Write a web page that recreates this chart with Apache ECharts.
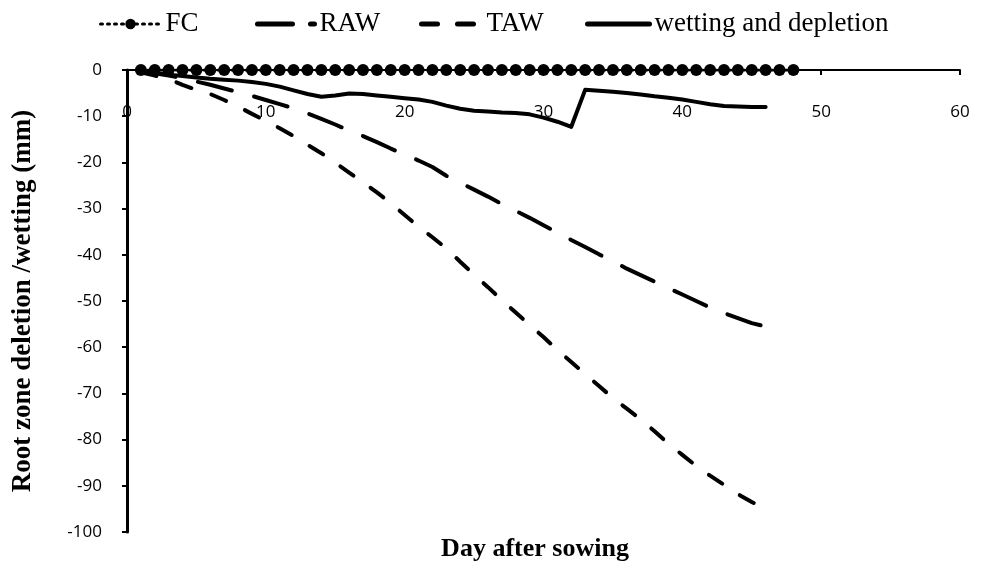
<!DOCTYPE html>
<html>
<head>
<meta charset="utf-8">
<script src="https://cdn.jsdelivr.net/npm/echarts@6/dist/echarts.min.js"></script>
<style>
  html, body { margin: 0; padding: 0; background: #fff; }
  #chart { width: 984px; height: 569px; }
</style>
</head>
<body>
<div id="chart"></div>
<script>
// Day after sowing for the soil water balance series
const days = [1, 2, 3, 4, 5, 6, 7, 8, 9, 10, 11, 12, 13, 14, 15, 16, 17, 18, 19, 20,
  21, 22, 23, 24, 25, 26, 27, 28, 29, 30, 31, 32, 33, 34, 35, 36, 37, 38, 39, 40,
  41, 42, 43, 44, 45, 46];
// Field capacity reference line (days and depletion, mm)
const fcDays = [1, 2, 3, 4, 5, 6, 7, 8, 9, 10, 11, 12, 13, 14, 15, 16, 17, 18, 19, 20,
  21, 22, 23, 24, 25, 26, 27, 28, 29, 30, 31, 32, 33, 34, 35, 36, 37, 38, 39, 40,
  41, 42, 43, 44, 45, 46, 47, 48];
const fcValues = [0, 0, 0, 0, 0, 0, 0, 0, 0, 0, 0, 0, 0, 0, 0, 0, 0, 0, 0, 0,
  0, 0, 0, 0, 0, 0, 0, 0, 0, 0, 0, 0, 0, 0, 0, 0, 0, 0, 0, 0,
  0, 0, 0, 0, 0, 0, 0, 0];
// Readily available water (mm)
const rawValues = [-0.3, -0.7, -1.2, -1.8, -2.5, -3.2, -4.0, -4.8, -5.6, -6.5,
  -7.4, -8.3, -9.4, -10.6, -11.8, -13.1, -14.3, -15.6, -17.0, -18.3,
  -19.6, -21.0, -22.9, -24.4, -25.9, -27.4, -29.0, -30.5, -32.0, -33.6,
  -35.2, -36.8, -38.3, -39.9, -41.4, -43.0, -44.4, -45.8, -47.2, -48.6,
  -50.0, -51.4, -52.6, -53.7, -54.8, -55.5];
// Total available water (mm)
const tawValues = [-0.5, -1.2, -2.0, -3.2, -4.3, -5.2, -6.5, -7.9, -9.5, -11.0,
  -12.6, -14.3, -16.2, -18.0, -20.1, -22.2, -24.3, -26.5, -28.8, -31.4,
  -33.9, -36.2, -38.6, -41.5, -44.3, -47.0, -49.8, -52.5, -55.2, -57.8,
  -60.6, -63.2, -65.8, -68.4, -71.0, -73.3, -75.6, -78.2, -80.9, -83.3,
  -85.7, -87.8, -89.8, -91.8, -93.5, -95.0];
// Root zone depletion after wetting events (mm)
const wettingValues = [-0.3, -0.6, -1.0, -1.3, -1.6, -1.9, -2.1, -2.3, -2.6, -3.0,
  -3.6, -4.4, -5.2, -5.8, -5.5, -5.1, -5.2, -5.5, -5.8, -6.1,
  -6.4, -6.9, -7.7, -8.4, -8.8, -9.0, -9.2, -9.3, -9.6, -10.3,
  -11.2, -12.3, -4.3, -4.5, -4.7, -5.0, -5.3, -5.7, -6.0, -6.4,
  -6.9, -7.4, -7.8, -7.9, -8.0, -8.0];

const seriesNames = ['FC', 'RAW', 'TAW', 'wetting and depletion'];
const xTitle = 'Day after sowing';
const yTitle = 'Root zone deletion /wetting (mm)';

const pairs = (xs, ys) => xs.map((x, i) => [x, ys[i]]);

const labelFont = { color: '#000', fontFamily: 'Open Sans', fontSize: 17 };
const legendText = { color: '#000', fontFamily: 'Liberation Serif', fontSize: 27, lineHeight: 30 };

// One legend block per series so each entry sits at its own spot
function legendFor(name, left, width, lineStyle, hideSymbol) {
  const opt = {
    data: [name],
    left: left,
    top: 9,
    itemWidth: width,
    itemHeight: 13,
    itemGap: 0,
    padding: 0,
    selectedMode: false,
    textStyle: legendText,
    lineStyle: lineStyle
  };
  if (hideSymbol) opt.itemStyle = { opacity: 0 };
  return opt;
}

const chart = echarts.init(document.getElementById('chart'), null, { renderer: 'canvas' });
chart.setOption({
  animation: false,
  backgroundColor: '#fff',
  grid: { left: 127, right: 24, top: 70, bottom: 37, containLabel: false },
  legend: [
    legendFor(seriesNames[0], 99, 60, { color: '#000', width: 3, type: [2, 5], cap: 'round' }, false),
    legendFor(seriesNames[1], 255, 57, { color: '#000', width: 5, type: [35, 18], cap: 'round' }, true),
    legendFor(seriesNames[2], 419, 60, { color: '#000', width: 5, type: [16, 20], cap: 'round' }, true),
    legendFor(seriesNames[3], 585, 62, { color: '#000', width: 5, type: 'solid' }, true)
  ],
  xAxis: {
    type: 'value',
    position: 'top',
    min: 0,
    max: 60,
    interval: 10,
    axisLine: { onZero: false, lineStyle: { color: '#000', width: 2 } },
    axisTick: { show: true, inside: true, length: 5, lineStyle: { color: '#000', width: 2 } },
    axisLabel: Object.assign({ inside: true, margin: 34 }, labelFont),
    splitLine: { show: false }
  },
  yAxis: {
    type: 'value',
    min: -100,
    max: 0,
    interval: 10,
    axisLine: { show: true, onZero: false, lineStyle: { color: '#000', width: 3 } },
    axisTick: { show: true, length: 5, lineStyle: { color: '#000', width: 2 } },
    axisLabel: Object.assign({ margin: 25 }, labelFont),
    splitLine: { show: false }
  },
  graphic: [
    {
      type: 'text',
      x: 535, y: 549,
      style: {
        text: xTitle, fill: '#000', fontFamily: 'Liberation Serif', fontWeight: 'bold',
        fontSize: 26, align: 'center', verticalAlign: 'middle'
      }
    },
    {
      type: 'text',
      x: 23, y: 301, rotation: Math.PI / 2,
      style: {
        text: yTitle, fill: '#000', fontFamily: 'Liberation Serif', fontWeight: 'bold',
        fontSize: 27, align: 'center', verticalAlign: 'middle'
      }
    }
  ],
  series: [
    {
      name: seriesNames[1],
      type: 'line',
      data: pairs(days, rawValues),
      showSymbol: false,
      symbol: 'none',
      lineStyle: { color: '#000', width: 4, type: [35, 23], cap: 'round' },
      itemStyle: { color: '#000' },
      z: 3
    },
    {
      name: seriesNames[2],
      type: 'line',
      data: pairs(days, tawValues),
      showSymbol: false,
      symbol: 'none',
      lineStyle: { color: '#000', width: 4, type: [16, 21], cap: 'round' },
      itemStyle: { color: '#000' },
      z: 3
    },
    {
      name: seriesNames[3],
      type: 'line',
      data: pairs(days, wettingValues),
      showSymbol: false,
      symbol: 'none',
      lineStyle: { color: '#000', width: 4, type: 'solid', cap: 'round', join: 'round' },
      itemStyle: { color: '#000' },
      z: 3
    },
    {
      name: seriesNames[0],
      type: 'line',
      data: pairs(fcDays, fcValues),
      symbol: 'circle',
      symbolSize: 12,
      showSymbol: true,
      lineStyle: { color: '#000', width: 3, type: [2, 5], cap: 'round' },
      itemStyle: { color: '#000' },
      z: 4
    }
  ]
});
</script>
</body>
</html>
